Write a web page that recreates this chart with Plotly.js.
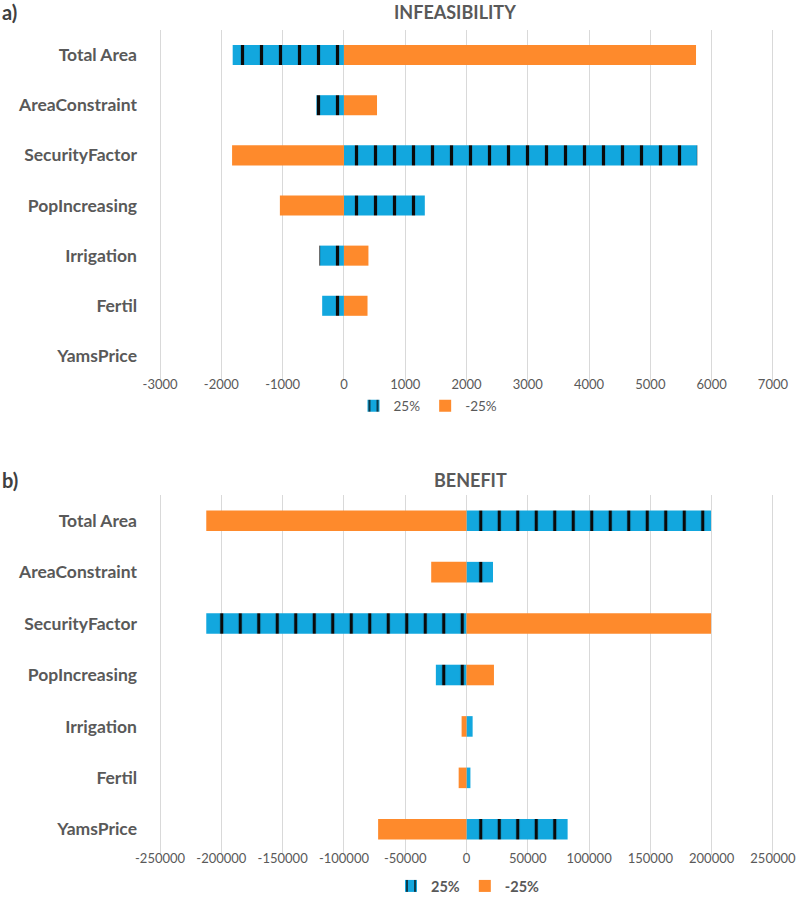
<!DOCTYPE html>
<html>
<head>
<meta charset="utf-8">
<script src="https://cdn.plot.ly/plotly-3.0.1.min.js"></script>
<style>html,body{margin:0;padding:0;background:#fff;}#chart{width:796px;height:912px;}</style>
</head>
<body>
<div id="chart"></div>
<script>
// ---- data ----
const categories = ['Total Area','AreaConstraint','SecurityFactor','PopIncreasing','Irrigation','Fertil','YamsPrice'];
const infeasPlus25  = [-1815, -450, 5765, 1320, -400, -355, 0];
const infeasMinus25 = [5745, 540, -1825, -1045, 400, 385, 0];
const benefitPlus25  = [199500, 21600, -212300, -25000, 5000, 3200, 82500];
const benefitMinus25 = [-212300, -28800, 199500, 22400, -4000, -6400, -72100];
const seriesNames = ['25%', '-25%'];
const infeasTicks = [-3000,-2000,-1000,0,1000,2000,3000,4000,5000,6000,7000];
const benefitTicks = [-250000,-200000,-150000,-100000,-50000,0,50000,100000,150000,200000,250000];

// ---- styles ----
const BLUE = '#12A7DE', ORANGE = '#FE8A2C', GRAY = '#595959', GRID = '#D9D9D9';
const FONT = 'Lato, "Open Sans", sans-serif';
const W = 912;
const L = 157, R = 20, PW = 796 - L - R;
function py(px){ return 1 - px / W; }
function pxX(px){ return (px - L) / PW; }

function bar(x, name, color, xa, ya, legend, pattern){
  const t = {type:'bar', orientation:'h', x:x, y:categories, name:name, xaxis:xa, yaxis:ya,
    legend:legend, showlegend:true, width:0.4,
    marker:{color:color, line:{width:0}}, hoverinfo:'x+y+name'};
  if (pattern) t.marker.pattern = {shape:'|', fgcolor:'#0A0A0A', bgcolor:color, size:pattern, solidity:0.17};
  return t;
}

const traces = [
  bar(infeasPlus25, seriesNames[0], BLUE, 'x', 'y', 'legend', 19),
  bar(infeasMinus25, seriesNames[1], ORANGE, 'x', 'y', 'legend', null),
  bar(benefitPlus25, seriesNames[0], BLUE, 'x2', 'y2', 'legend2', 18.5),
  bar(benefitMinus25, seriesNames[1], ORANGE, 'x2', 'y2', 'legend2', null)
];

function xaxis(ticks, anchor){
  const lo = ticks[0], hi = ticks[ticks.length-1], pad = (hi - lo) * 0.005;
  return {range:[lo - pad, hi + pad], tickvals:ticks, ticktext:ticks.map(String),
    showgrid:true, gridcolor:GRID, gridwidth:1, zeroline:true, zerolinecolor:GRID, zerolinewidth:1,
    showline:false, ticks:'', tickfont:{family:FONT, size:13, color:GRAY}, anchor:anchor,
    fixedrange:true, ticklabelstandoff:-6, ticklabeloverflow:'allow'};
}
function yaxis(domain, anchor){
  return {domain:domain, type:'category', autorange:'reversed', showgrid:false, zeroline:false,
    showline:false, ticks:'', tickfont:{family:FONT, size:17.5, color:GRAY, weight:'bold'},
    anchor:anchor, ticklabelstandoff:19, fixedrange:true};
}

const layout = {
  width:796, height:912, margin:{l:L, r:R, t:0, b:0},
  paper_bgcolor:'#fff', plot_bgcolor:'#fff', barmode:'relative',
  font:{family:FONT, color:GRAY},
  xaxis: xaxis(infeasTicks, 'y'),
  yaxis: yaxis([py(381), py(30)], 'x'),
  xaxis2: xaxis(benefitTicks, 'y2'),
  yaxis2: yaxis([py(855), py(495)], 'x2'),
  legend:{orientation:'h', x:pxX(428), xanchor:'center', y:py(406), yanchor:'middle',
    font:{family:FONT, size:13.5, color:GRAY}, itemwidth:30, bgcolor:'rgba(0,0,0,0)', tracegroupgap:0},
  legend2:{orientation:'h', x:pxX(468), xanchor:'center', y:py(886), yanchor:'middle',
    font:{family:FONT, size:14.5, color:GRAY, weight:'bold'}, itemwidth:30, bgcolor:'rgba(0,0,0,0)'},
  annotations:[
    {text:'a)', xref:'paper', yref:'paper', x:pxX(0), y:py(12), xanchor:'left', yanchor:'middle', showarrow:false,
      font:{family:FONT, size:20, color:'#404040', weight:'bold'}},
    {text:'INFEASIBILITY', xref:'paper', yref:'paper', x:pxX(455), y:py(12), xanchor:'center', yanchor:'middle', showarrow:false,
      font:{family:FONT, size:18, color:GRAY, weight:'bold'}},
    {text:'b)', xref:'paper', yref:'paper', x:pxX(0), y:py(480), xanchor:'left', yanchor:'middle', showarrow:false,
      font:{family:FONT, size:20, color:'#404040', weight:'bold'}},
    {text:'BENEFIT', xref:'paper', yref:'paper', x:pxX(470), y:py(480), xanchor:'center', yanchor:'middle', showarrow:false,
      font:{family:FONT, size:18, color:GRAY, weight:'bold'}}
  ]
};

Plotly.newPlot('chart', traces, layout, {displayModeBar:false, staticPlot:true});
</script>
</body>
</html>
